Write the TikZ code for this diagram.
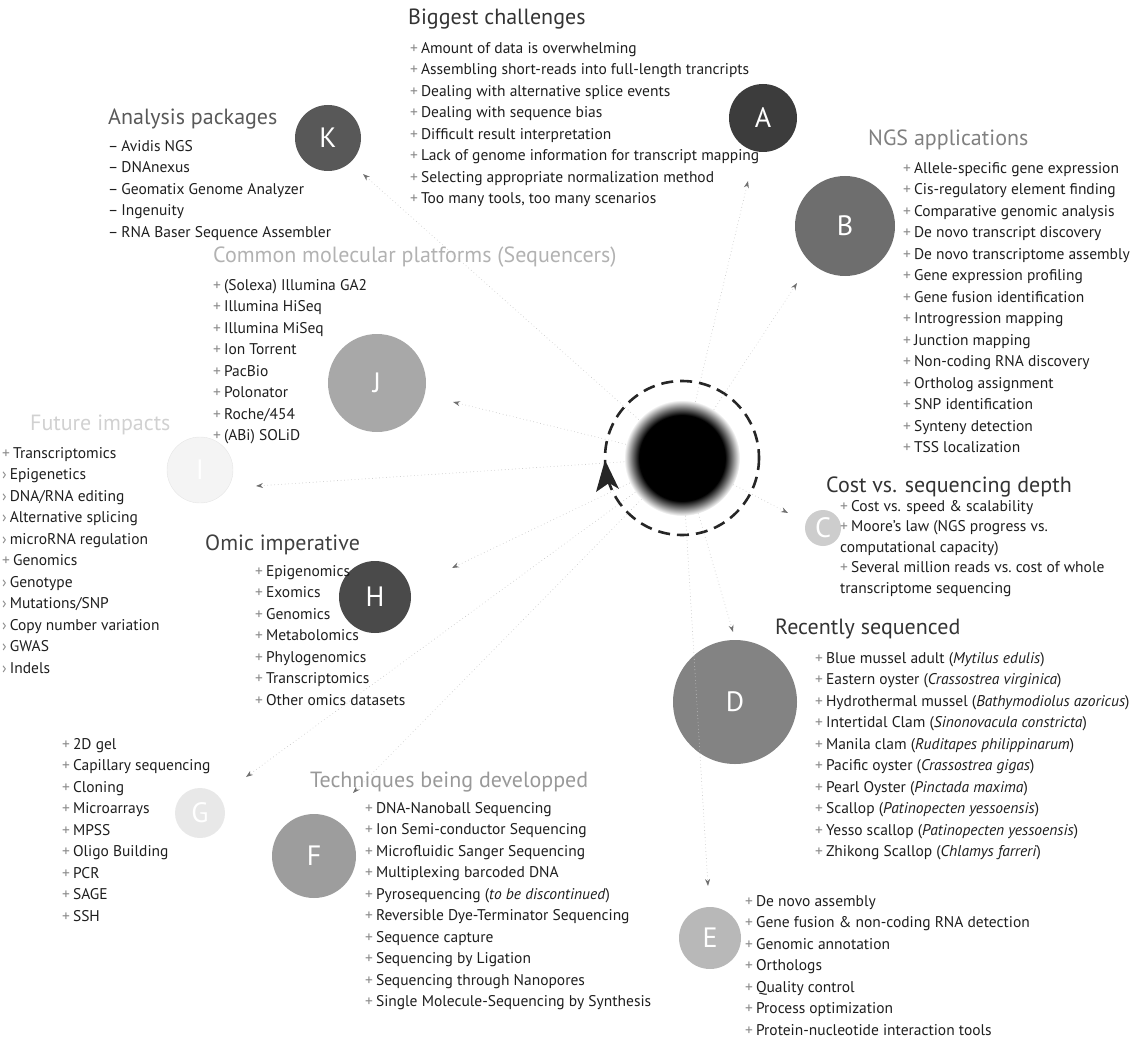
\documentclass[tikz,border=0pt]{standalone}
\usepackage{fontspec}
\setmainfont{PT Sans}
\usetikzlibrary{arrows.meta}

\definecolor{inkA}{HTML}{3C3C3C}
\definecolor{inkB}{HTML}{6E6E6E}
\definecolor{inkC}{HTML}{CDCDCD}
\definecolor{inkD}{HTML}{838383}
\definecolor{inkE}{HTML}{B8B8B8}
\definecolor{inkF}{HTML}{9D9D9D}
\definecolor{inkG}{HTML}{E8E8E8}
\definecolor{inkH}{HTML}{4A4A4A}
\definecolor{inkI}{HTML}{F4F4F4}
\definecolor{inkJ}{HTML}{A8A8A8}
\definecolor{inkK}{HTML}{585858}
\definecolor{bodytext}{HTML}{1E1E1E}
\definecolor{bulletgray}{HTML}{8A8A8A}
\definecolor{linkgray}{HTML}{C6C6C6}
\definecolor{tipgray}{HTML}{707070}

% bullet marks used in the lists
\newcommand\bplus{{\color{bulletgray}+}\hspace{3pt}}
\newcommand\bdash{{\color{bodytext}–}\hspace{3pt}}
\newcommand\bsub{{\color{bulletgray}›}\hspace{3pt}}

% soft black core of the hub
\pgfdeclareradialshading{hubglow}{\pgfpoint{0bp}{0bp}}{%
  color(0bp)=(black); color(18.5bp)=(black); color(21.5bp)=(black!55);
  color(25bp)=(white)}

\begin{document}
\begin{tikzpicture}[x=1pt,y=-1pt,
  bubble/.style={circle, inner sep=0pt, minimum size=#1, text=white,
    font=\fontsize{28}{28}\selectfont},
  heading/.style={anchor=north west, inner sep=0pt,
    font=\fontsize{22}{26}\selectfont},
  itemlist/.style={anchor=north west, inner sep=0pt, align=left,
    text=bodytext, font=\fontsize{15.5}{21.5}\selectfont},
  link/.style={draw=linkgray, line width=0.9pt, line cap=round,
    dash pattern=on 0pt off 3.5pt, shorten <=2pt,
    -{Stealth[length=7pt,width=5pt,color=tipgray]}},
]
\useasboundingbox (0,0) rectangle (1143,1043);

% ---- hub: blurred black disc inside a dashed ring -------------------
\shade[shading=hubglow] (682,458) circle (58);
\node[circle, minimum size=112pt, inner sep=0pt] (hub) at (682,458) {};
\draw[line width=2.6pt, color=black!85, dash pattern=on 12pt off 7pt]
  (682,458) circle (77);
\fill[black!85] (605,460) -- (619,489) -- (609,483) -- (596,492) -- cycle;

% ---- bubbles ---------------------------------------------------------
\node[bubble=68pt,  fill=inkA] (A) at (763,118) {A};
\node[bubble=100pt, fill=inkB] (B) at (845,226) {B};
\node[bubble=36pt,  fill=inkC] (C) at (823,528) {C};
\node[bubble=124pt, fill=inkD] (D) at (735,702) {D};
\node[bubble=62pt,  fill=inkE] (E) at (710,938) {E};
\node[bubble=84pt,  fill=inkF] (F) at (314,856) {F};
\node[bubble=50pt,  fill=inkG] (G) at (200,813) {G};
\node[bubble=72pt,  fill=inkH] (H) at (375,597) {H};
\node[bubble=66pt,  fill=inkI, draw=black!10, text=white] (I) at (200,470) {I};
\node[bubble=98pt,  fill=inkJ] (J) at (377,383) {J};
\node[bubble=66pt,  fill=inkK] (K) at (328,138) {K};

% ---- arrow ends of the spokes ---------------------------------------
\coordinate (tA) at (748,181);
\coordinate (tB) at (797,283);
\coordinate (tC) at (788,513);
\coordinate (tD) at (733,632);
\coordinate (tE) at (708,886);
\coordinate (tF) at (353,793);
\coordinate (tG) at (246,777);
\coordinate (tH) at (452,568);
\coordinate (tI) at (256,486);
\coordinate (tJ) at (453,402);
\coordinate (tK) at (363,174);

\foreach \t in {tA,tB,tC,tD,tE,tF,tG,tH,tI,tJ,tK}
  \draw[link] (hub) -- (\t);

% ---- headings --------------------------------------------------------
\node[heading, text=black!80] (hA) at (408,9)   {Biggest challenges};
\node[heading, text=black!65] (hK) at (108,109) {Analysis packages};
\node[heading, text=black!50] (hB) at (868,130) {NGS applications};
\node[heading, text=black!30] (hJ) at (213,247) {Common molecular platforms (Sequencers)};
\node[heading, text=black!18] (hI) at (30,415)  {Future impacts};
\node[heading, text=black!80] (hC) at (826,477) {Cost vs. sequencing depth};
\node[heading, text=black!75] (hH) at (205,535) {Omic imperative};
\node[heading, text=black!80] (hD) at (775,619) {Recently sequenced};
\node[heading, text=black!40] (hF) at (310,772) {Techniques being developped};

% ---- item lists ------------------------------------------------------
\node[itemlist] (lA) at (410,42) {%
\bplus Amount of data is overwhelming\\
\bplus Assembling short-reads into full-length trancripts\\
\bplus Dealing with alternative splice events\\
\bplus Dealing with sequence bias\\
\bplus Difficult result interpretation\\
\bplus Lack of genome information for transcript mapping\\
\bplus Selecting appropriate normalization method\\
\bplus Too many tools, too many scenarios};

\node[itemlist] (lK) at (108,140) {%
\bdash Avidis NGS\\
\bdash DNAnexus\\
\bdash Geomatix Genome Analyzer\\
\bdash Ingenuity\\
\bdash RNA Baser Sequence Assembler};

\node[itemlist] (lB) at (903,162) {%
\bplus Allele-specific gene expression\\
\bplus Cis-regulatory element finding\\
\bplus Comparative genomic analysis\\
\bplus De novo transcript discovery\\
\bplus De novo transcriptome assembly\\
\bplus Gene expression profiling\\
\bplus Gene fusion identification\\
\bplus Introgression mapping\\
\bplus Junction mapping\\
\bplus Non-coding RNA discovery\\
\bplus Ortholog assignment\\
\bplus SNP identification\\
\bplus Synteny detection\\
\bplus TSS localization};

\node[itemlist] (lJ) at (213,279) {%
\bplus (Solexa) Illumina GA2\\
\bplus Illumina HiSeq\\
\bplus Illumina MiSeq\\
\bplus Ion Torrent\\
\bplus PacBio\\
\bplus Polonator\\
\bplus Roche/454\\
\bplus (ABi) SOLiD};

\node[itemlist] (lI) at (2,447) {%
\bplus Transcriptomics\\
\bsub Epigenetics\\
\bsub DNA/RNA editing\\
\bsub Alternative splicing\\
\bsub microRNA regulation\\
\bplus Genomics\\
\bsub Genotype\\
\bsub Mutations/SNP\\
\bsub Copy number variation\\
\bsub GWAS\\
\bsub Indels};

\node[itemlist, font=\fontsize{15.5}{20.5}\selectfont] (lC) at (840,500) {%
\bplus Cost vs. speed \& scalability\\
\bplus Moore's law (NGS progress vs.\\
computational capacity)\\
\bplus Several million reads vs.\ cost of whole\\
transcriptome sequencing};

\node[itemlist] (lH) at (255,565) {%
\bplus Epigenomics\\
\bplus Exomics\\
\bplus Genomics\\
\bplus Metabolomics\\
\bplus Phylogenomics\\
\bplus Transcriptomics\\
\bplus Other omics datasets};

\node[itemlist] (lD) at (815,652) {%
\bplus Blue mussel adult (\textit{Mytilus edulis})\\
\bplus Eastern oyster (\textit{Crassostrea virginica})\\
\bplus Hydrothermal mussel (\textit{Bathymodiolus azoricus})\\
\bplus Intertidal Clam (\textit{Sinonovacula constricta})\\
\bplus Manila clam (\textit{Ruditapes philippinarum})\\
\bplus Pacific oyster (\textit{Crassostrea gigas})\\
\bplus Pearl Oyster (\textit{Pinctada maxima})\\
\bplus Scallop (\textit{Patinopecten yessoensis})\\
\bplus Yesso scallop (\textit{Patinopecten yessoensis})\\
\bplus Zhikong Scallop (\textit{Chlamys farreri})};

\node[itemlist] (lG) at (62,738) {%
\bplus 2D gel\\
\bplus Capillary sequencing\\
\bplus Cloning\\
\bplus Microarrays\\
\bplus MPSS\\
\bplus Oligo Building\\
\bplus PCR\\
\bplus SAGE\\
\bplus SSH};

\node[itemlist] (lF) at (365,802) {%
\bplus DNA-Nanoball Sequencing\\
\bplus Ion Semi-conductor Sequencing\\
\bplus Microfluidic Sanger Sequencing\\
\bplus Multiplexing barcoded DNA\\
\bplus Pyrosequencing (\textit{to be discontinued})\\
\bplus Reversible Dye-Terminator Sequencing\\
\bplus Sequence capture\\
\bplus Sequencing by Ligation\\
\bplus Sequencing through Nanopores\\
\bplus Single Molecule-Sequencing by Synthesis};

\node[itemlist] (lE) at (745,895) {%
\bplus De novo assembly\\
\bplus Gene fusion \& non-coding RNA detection\\
\bplus Genomic annotation\\
\bplus Orthologs\\
\bplus Quality control\\
\bplus Process optimization\\
\bplus Protein-nucleotide interaction tools};
\end{tikzpicture}
\end{document}
